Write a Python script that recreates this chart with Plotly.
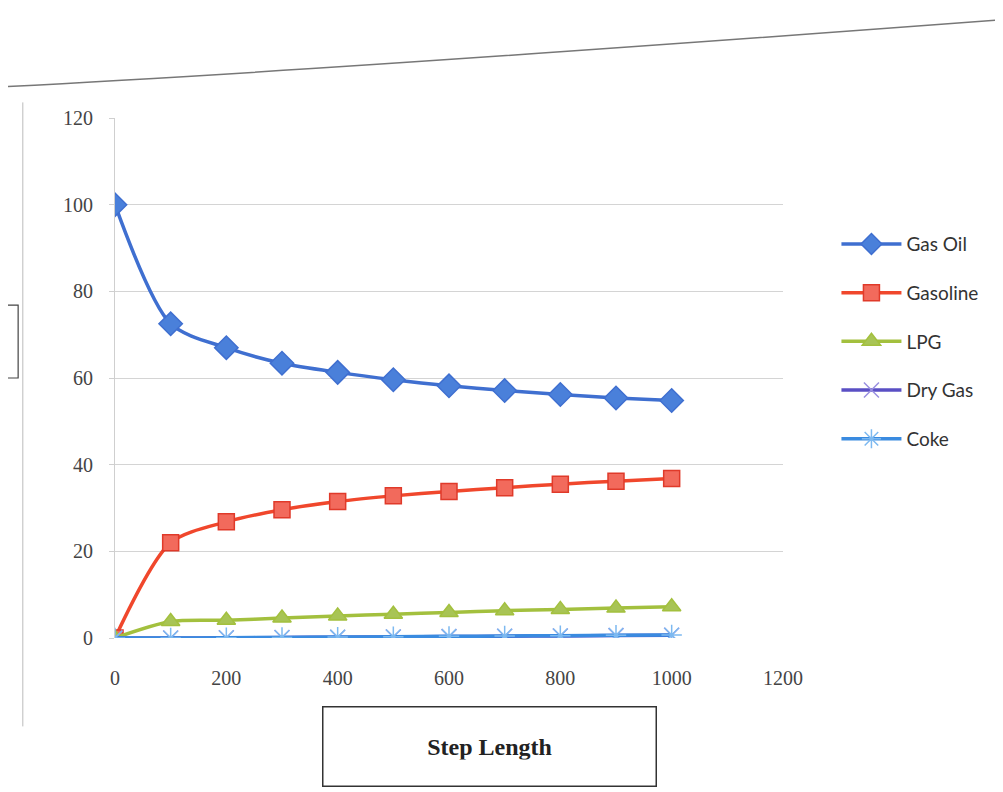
import plotly.graph_objects as go

step_length = [0, 100, 200, 300, 400, 500, 600, 700, 800, 900, 1000]
gas_oil = [100, 72.5, 67.0, 63.4, 61.3, 59.6, 58.2, 57.1, 56.2, 55.4, 54.8]
gasoline = [0, 22.0, 26.8, 29.6, 31.5, 32.8, 33.8, 34.7, 35.5, 36.2, 36.8]
lpg = [0, 3.8, 4.1, 4.6, 5.1, 5.5, 5.9, 6.3, 6.6, 6.9, 7.2]
dry_gas = [0, 0.0, 0.05, 0.12, 0.18, 0.25, 0.32, 0.4, 0.47, 0.55, 0.62]
coke = [0, 0.0, 0.06, 0.14, 0.21, 0.3, 0.38, 0.46, 0.54, 0.62, 0.7]

x_ticks = [0, 200, 400, 600, 800, 1000, 1200]
y_ticks = [0, 20, 40, 60, 80, 100, 120]

series = [
    ("Gas Oil", gas_oil, "#3F6FD0", "diamond", "#4A80DA", "#3F6FD0", 18),
    ("Gasoline", gasoline, "#F0472C", "square", "#F26A5C", "#E03A2A", 16),
    ("LPG", lpg, "#A3C03E", "triangle-up", "#A8C455", "#A3C03E", 16),
    ("Dry Gas", dry_gas, "#5A4FC4", "x-thin-open", "#9A90E0", "#9A90E0", 15),
    ("Coke", coke, "#3A8BE0", "asterisk-open", "#7DB9F0", "#7DB9F0", 17),
]

fig = go.Figure()
for name, vals, lc, sym, mc, mlc, ms in series:
    fig.add_trace(go.Scatter(
        x=step_length, y=vals, name=name, mode="lines+markers",
        line=dict(color=lc, width=3.5, shape="spline", smoothing=0.8),
        marker=dict(symbol=sym, size=ms, color=mc,
                    line=dict(color=mlc, width=1.5)),
        legendgroup=name,
    ))

fig.update_layout(
    width=1003, height=792,
    paper_bgcolor="white", plot_bgcolor="white",
    margin=dict(l=107, r=228, t=110, b=162),
    font=dict(family="Lato, Open Sans, sans-serif", color="#333"),
    showlegend=True,
    legend=dict(
        x=1.08, y=0.57, xanchor="left", yanchor="middle",
        font=dict(size=19, color="#333", family="Lato, sans-serif"),
        tracegroupgap=21, itemwidth=60, bgcolor="rgba(0,0,0,0)",
    ),
    xaxis=dict(
        range=[0, 1200], tickvals=x_ticks, ticktext=[str(v) for v in x_ticks],
        showgrid=False, zeroline=False, showline=False,
        ticks="", ticklabelstandoff=26,
        tickfont=dict(size=20, family="Liberation Serif, serif", color="#444"),
    ),
    yaxis=dict(
        range=[0, 120], tickvals=y_ticks, ticktext=[str(v) for v in y_ticks],
        showgrid=True, gridcolor="#D4D4D4", gridwidth=1,
        zeroline=False, showline=True, linecolor="#CFCFCF",
        ticks="outside", ticklen=5, tickcolor="#CFCFCF",
        ticklabelstandoff=12,
        tickfont=dict(size=20, family="Liberation Serif, serif", color="#444"),
    ),
    annotations=[dict(
        text="<b>Step Length</b>", xref="paper", yref="paper",
        x=0.56, y=-0.13, xanchor="center", yanchor="top", showarrow=False,
        font=dict(size=24, family="Liberation Serif, serif", color="#222"),
        bordercolor="#333", borderwidth=1.5, borderpad=26,
        width=280,
    )],
    shapes=[
        dict(type="line", xref="paper", yref="paper", x0=-0.138, x1=-0.138,
             y0=-0.17, y1=1.03, line=dict(color="#BBBBBB", width=1)),
        dict(type="rect", xref="paper", yref="paper", x0=-0.17, x1=-0.145,
             y0=0.5, y1=0.64, line=dict(color="#444", width=1.2)),
        dict(type="path", xref="paper", yref="paper",
             path="M -0.17 1.06 Q 0.3 1.09 1.34 1.19",
             line=dict(color="#777777", width=1.5)),
    ],
)

fig.write_html("out.html")
